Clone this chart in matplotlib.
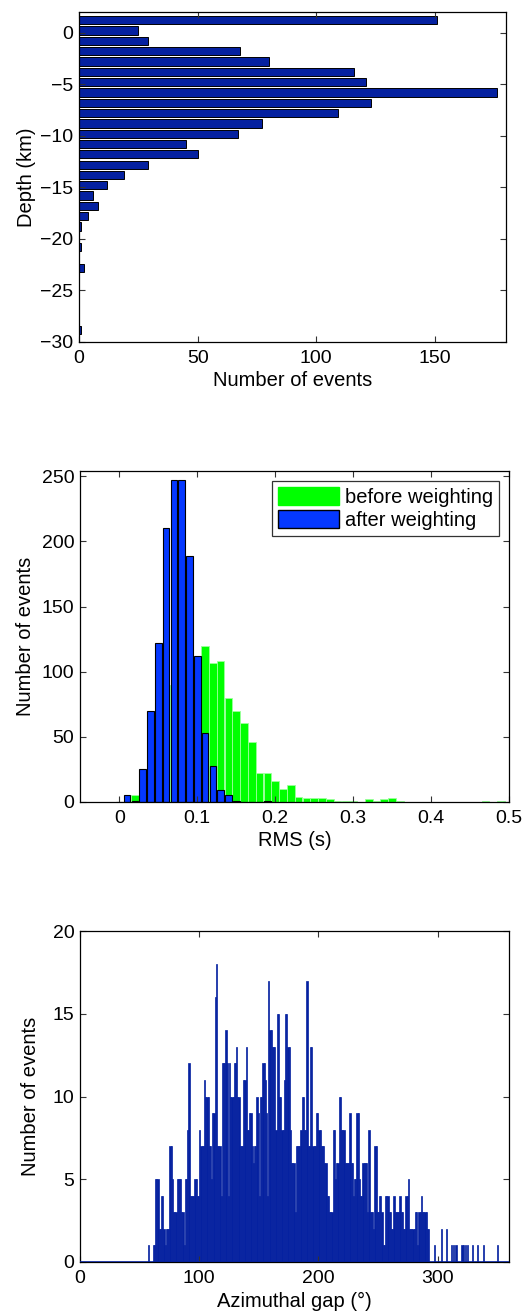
import numpy as np
import matplotlib
matplotlib.use("Agg")
import matplotlib.pyplot as plt
from matplotlib.patches import Patch

plt.rcParams['font.family'] = ['Liberation Sans', 'DejaVu Sans']
plt.rcParams['font.size'] = 14

# ---------------- data ----------------
# Panel 1: depth histogram
depth_centers = [1.2, 0.2, -0.8, -1.8, -2.8, -3.8, -4.8, -5.8, -6.8, -7.8, -8.8,
                 -9.8, -10.8, -11.8, -12.8, -13.8, -14.8, -15.8, -16.8, -17.8,
                 -18.8, -19.8, -20.8, -21.8, -22.8, -23.8, -24.8, -25.8, -26.8,
                 -27.8, -28.8]
depth_counts = [151, 25, 29, 68, 80, 116, 121, 176, 123, 109, 77, 67, 45, 50, 29,
                19, 12, 6, 8, 4, 1, 0, 1, 0, 2, 0, 0, 0, 0, 0, 1]

# Panel 2: RMS histograms
rms_centers = [0.00, 0.01, 0.02, 0.03, 0.04, 0.05, 0.06, 0.07, 0.08, 0.09, 0.10,
               0.11, 0.12, 0.13, 0.14, 0.15, 0.16, 0.17, 0.18, 0.19, 0.20, 0.21,
               0.22, 0.23, 0.24, 0.25, 0.26, 0.27, 0.28, 0.29, 0.30, 0.31, 0.32,
               0.33, 0.34, 0.35, 0.36, 0.37, 0.38, 0.39, 0.40, 0.41, 0.42, 0.43,
               0.44, 0.45, 0.46, 0.47, 0.48, 0.49]
rms_before = [0, 0, 5, 8, 20, 40, 65, 90, 105, 110, 108,
              120, 107, 108, 80, 70, 61, 46, 22, 22, 16, 10,
              13, 4, 3, 3, 3, 2, 1, 1, 1, 0, 2,
              1, 2, 3, 1, 0, 0, 0, 0, 0, 0, 0,
              0, 0, 0, 1, 0, 1]
rms_after = [0, 5, 1, 25, 70, 122, 210, 247, 247, 189, 112,
             53, 28, 9, 5, 1, 0, 0, 0, 1]

# Panel 3: azimuthal gap histogram (1 degree bins)
gap_start = 55
gap_counts = [
    0, 0, 1, 0, 0, 0, 1, 1, 5, 5,            # 55-64
    5, 2, 2, 4, 4, 2, 1, 2, 2, 2,            # 65-74
    7, 7, 5, 3, 3, 3, 5, 5, 5, 5,            # 75-84
    3, 3, 1, 5, 5, 8, 12, 4, 4, 4,           # 85-94
    4, 5, 5, 4, 4, 8, 7, 7, 7, 11,           # 95-104
    10, 10, 10, 7, 7, 5, 9, 9, 16, 18,       # 105-114
    7, 7, 7, 4, 12, 12, 12, 14, 12, 4,       # 115-124
    12, 10, 10, 10, 12, 12, 13, 10, 10, 7,   # 125-134
    7, 7, 11, 11, 13, 8, 8, 9, 9, 7,         # 135-144
    6, 7, 7, 10, 9, 4, 10, 10, 12, 12,       # 145-154
    11, 9, 4, 17, 14, 14, 13, 13, 13, 8,     # 155-164
    15, 15, 10, 10, 8, 8, 11, 15, 15, 13,    # 165-174
    13, 8, 6, 6, 6, 3, 7, 7, 7, 7,           # 175-184
    8, 10, 10, 8, 8, 17, 7, 7, 13, 13,       # 185-194
    7, 7, 7, 9, 9, 8, 8, 7, 7, 7,            # 195-204
    6, 6, 4, 4, 3, 3, 3, 8, 8, 5,            # 205-214
    6, 6, 10, 10, 8, 8, 8, 6, 6, 6,          # 215-224
    6, 9, 6, 6, 4, 5, 5, 9, 9, 5,            # 225-234
    4, 4, 6, 6, 6, 6, 3, 8, 3, 3,            # 235-244
    3, 2, 7, 7, 3, 3, 4, 4, 3, 1,            # 245-254
    1, 4, 4, 4, 3, 3, 2, 2, 4, 3,            # 255-264
    3, 3, 3, 4, 3, 3, 2, 2, 4, 4,            # 265-274
    5, 2, 2, 2, 2, 2, 3, 3, 1, 3,            # 275-284
    3, 4, 3, 3, 3, 3, 2, 2, 0, 0,            # 285-294
    0, 0, 1, 0, 0, 0, 0, 0, 2, 0,            # 295-304
    0, 0, 2, 0, 0, 0, 1, 0, 1, 0,            # 305-314
    1, 0, 0, 0, 0, 1, 1, 0, 1, 0,            # 315-324
    1, 0, 0, 0, 1, 0, 0, 0, 1, 0,            # 325-334
    0, 0, 0, 1, 0, 0, 0, 0, 0, 0,            # 335-344
    0, 0, 0, 0, 0, 1, 0, 0, 0, 0,            # 345-354
]

# ---------------- styling ----------------
dark_blue = '#0521a0'
bright_blue = '#0538ff'
green = '#00ff00'

W, H = 526, 1315
fig = plt.figure(figsize=(W / 100, H / 100), dpi=100)


def box(l, r, t, b):
    return [l / W, 1 - b / H, (r - l) / W, (b - t) / H]


def style(ax):
    ax.tick_params(direction='in', length=4, width=0.8, top=True, right=True,
                   labelsize=14, color='#333333')
    ax.tick_params(axis='x', pad=6)
    ax.tick_params(axis='y', pad=4)
    for s in ax.spines.values():
        s.set_linewidth(0.9)


# Panel 1
ax1 = fig.add_axes(box(79, 506, 12, 342))
ax1.barh(depth_centers, depth_counts, height=0.8, color=dark_blue,
         edgecolor='black', linewidth=0.7)
ax1.set_xlim(0, 180)
ax1.set_ylim(-30, 2)
ax1.set_xticks([0, 50, 100, 150])
ax1.set_yticks([0, -5, -10, -15, -20, -25, -30])
ax1.set_xlabel('Number of events', fontsize=14.5, labelpad=3)
ax1.set_ylabel('Depth (km)', fontsize=14.5, labelpad=3)
style(ax1)

# Panel 2
ax2 = fig.add_axes(box(80, 509, 471, 802))
ax2.bar(rms_centers, rms_before, width=0.0098, color=green,
        edgecolor='#9cff9c', linewidth=0.6, label='before weighting')
ax2.bar(rms_centers[:len(rms_after)], rms_after, width=0.0086,
        color=bright_blue, edgecolor='black', linewidth=0.8,
        label='after weighting')
ax2.set_xlim(-0.0505, 0.5)
ax2.set_ylim(0, 254)
ax2.set_xticks([0, 0.1, 0.2, 0.3, 0.4, 0.5])
ax2.set_xticklabels(['0', '0.1', '0.2', '0.3', '0.4', '0.5'])
ax2.set_yticks([0, 50, 100, 150, 200, 250])
ax2.set_xlabel('RMS (s)', fontsize=14.5, labelpad=3)
ax2.set_ylabel('Number of events', fontsize=14.5, labelpad=5)
handles = [Patch(facecolor=green, edgecolor=green, label='before weighting'),
           Patch(facecolor=bright_blue, edgecolor='black', label='after weighting')]
leg = ax2.legend(handles=handles, loc='upper right', fontsize=14.5,
                 frameon=True, fancybox=False, edgecolor='black',
                 handlelength=3.0, handleheight=1.0, handletextpad=0.3,
                 borderpad=0.3, labelspacing=0.15, borderaxespad=0.5)
leg.get_frame().set_linewidth(0.9)
style(ax2)

# Panel 3
ax3 = fig.add_axes(box(80, 509, 931, 1262))
gap_centers = [gap_start + i + 0.5 for i in range(len(gap_counts))]
ax3.bar(gap_centers, gap_counts, width=1.0, color=dark_blue,
        edgecolor=dark_blue, linewidth=0.5)
ax3.axhline(0, color=dark_blue, linewidth=1.2, zorder=3)
ax3.set_xlim(0, 360)
ax3.set_ylim(0, 20)
ax3.set_xticks([0, 100, 200, 300])
ax3.set_yticks([0, 5, 10, 15, 20])
ax3.set_xlabel('Azimuthal gap (°)', fontsize=14.5, labelpad=3)
ax3.set_ylabel('Number of events', fontsize=14.5, labelpad=9)
style(ax3)

fig.savefig('out.png', dpi=100)
